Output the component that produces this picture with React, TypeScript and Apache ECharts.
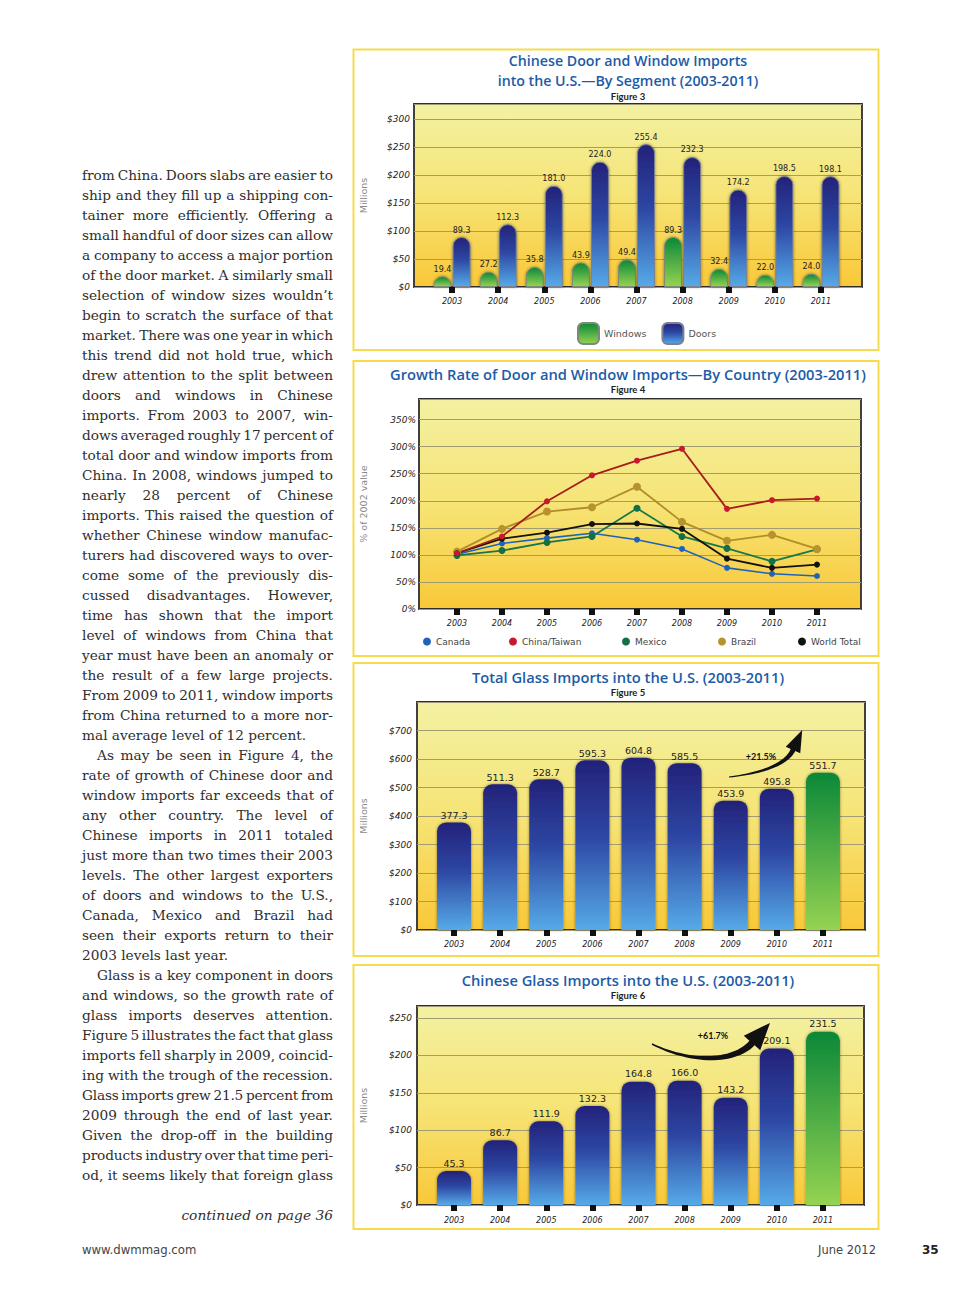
import React, { useEffect, useMemo, useRef } from 'react';
import * as echarts from 'echarts';

// ---------- DATA ----------
const YEARS = ['2003', '2004', '2005', '2006', '2007', '2008', '2009', '2010', '2011'];

// Figure 3 (Millions $)
const WINDOWS = [19.4, 27.2, 35.8, 43.9, 49.4, 89.3, 32.4, 22.0, 24.0];
const DOORS = [89.3, 112.3, 181.0, 224.0, 255.4, 232.3, 174.2, 198.5, 198.1];
const FIG3_TICKS = [0, 50, 100, 150, 200, 250, 300];

// Figure 4 (% of 2002 value)
const CANADA = [101, 121, 131, 140, 128, 111, 76, 65, 61];
const CHINA_TAIWAN = [103, 134, 199, 247, 274, 296, 185, 201, 204];
const MEXICO = [99, 108, 123, 134, 186, 134, 112, 88, 110];
const BRAZIL = [106, 148, 180, 188, 226, 161, 126, 137, 111];
const WORLD_TOTAL = [103, 130, 141, 157, 158, 148, 93, 76, 82];
const FIG4_TICKS = [0, 50, 100, 150, 200, 250, 300, 350];

// Figure 5 (Millions $)
const TOTAL_GLASS = [377.3, 511.3, 528.7, 595.3, 604.8, 585.5, 453.9, 495.8, 551.7];
const FIG5_TICKS = [0, 100, 200, 300, 400, 500, 600, 700];

// Figure 6 (Millions $)
const CHINESE_GLASS = [45.3, 86.7, 111.9, 132.3, 164.8, 166.0, 143.2, 209.1, 231.5];
const FIG6_TICKS = [0, 50, 100, 150, 200, 250];

const HIGHLIGHT_YEAR = '2011';

const BODY_LINES: { t: string; end?: boolean; indent?: boolean }[] = [
  { t: 'from China. Doors slabs are easier to' },
  { t: 'ship and they fill up a shipping con-' },
  { t: 'tainer more efficiently. Offering a' },
  { t: 'small handful of door sizes can allow' },
  { t: 'a company to access a major portion' },
  { t: 'of the door market. A similarly small' },
  { t: 'selection of window sizes wouldn\u2019t' },
  { t: 'begin to scratch the surface of that' },
  { t: 'market. There was one year in which' },
  { t: 'this trend did not hold true, which' },
  { t: 'drew attention to the split between' },
  { t: 'doors and windows in Chinese' },
  { t: 'imports. From 2003 to 2007, win-' },
  { t: 'dows averaged roughly 17 percent of' },
  { t: 'total door and window imports from' },
  { t: 'China. In 2008, windows jumped to' },
  { t: 'nearly 28 percent of Chinese' },
  { t: 'imports. This raised the question of' },
  { t: 'whether Chinese window manufac-' },
  { t: 'turers had discovered ways to over-' },
  { t: 'come some of the previously dis-' },
  { t: 'cussed disadvantages. However,' },
  { t: 'time has shown that the import' },
  { t: 'level of windows from China that' },
  { t: 'year must have been an anomaly or' },
  { t: 'the result of a few large projects.' },
  { t: 'From 2009 to 2011, window imports' },
  { t: 'from China returned to a more nor-' },
  { t: 'mal average level of 12 percent.', end: true },
  { t: 'As may be seen in Figure 4, the', indent: true },
  { t: 'rate of growth of Chinese door and' },
  { t: 'window imports far exceeds that of' },
  { t: 'any other country. The level of' },
  { t: 'Chinese imports in 2011 totaled' },
  { t: 'just more than two times their 2003' },
  { t: 'levels. The other largest exporters' },
  { t: 'of doors and windows to the U.S.,' },
  { t: 'Canada, Mexico and Brazil had' },
  { t: 'seen their exports return to their' },
  { t: '2003 levels last year.', end: true },
  { t: 'Glass is a key component in doors', indent: true },
  { t: 'and windows, so the growth rate of' },
  { t: 'glass imports deserves attention.' },
  { t: 'Figure 5 illustrates the fact that glass' },
  { t: 'imports fell sharply in 2009, coincid-' },
  { t: 'ing with the trough of the recession.' },
  { t: 'Glass imports grew 21.5 percent from' },
  { t: '2009 through the end of last year.' },
  { t: 'Given the drop-off in the building' },
  { t: 'products industry over that time peri-' },
  { t: 'od, it seems likely that foreign glass' },
];

// ---------- STYLE HELPERS ----------
const SANS = '"DejaVu Sans", Verdana, sans-serif';
const TITLE_FONT = '"Open Sans", sans-serif';

function vGrad(stops: [number, string][]) {
  return new echarts.graphic.LinearGradient(
    0, 0, 0, 1,
    stops.map(([offset, color]) => ({ offset, color }))
  );
}
const plotBg = () => vGrad([[0, '#f3f1a2'], [0.5, '#f6e476'], [1, '#f9c838']]);
const blueBar = () => vGrad([[0, '#23227a'], [0.45, '#2d47a3'], [1, '#56aae8']]);
const greenBar = () => vGrad([[0, '#0b8838'], [1, '#95d352']]);

type Pt = [number, number];
function arrowPoints(p0: Pt, p1: Pt, p2: Pt, p3: Pt, w0: number, w1: number, headLen: number, headHalf: number) {
  const front: Pt[] = [];
  const back: Pt[] = [];
  const N = 30;
  for (let i = 0; i <= N; i++) {
    const t = i / N, u = 1 - t;
    const x = u * u * u * p0[0] + 3 * u * u * t * p1[0] + 3 * u * t * t * p2[0] + t * t * t * p3[0];
    const y = u * u * u * p0[1] + 3 * u * u * t * p1[1] + 3 * u * t * t * p2[1] + t * t * t * p3[1];
    const dx = 3 * u * u * (p1[0] - p0[0]) + 6 * u * t * (p2[0] - p1[0]) + 3 * t * t * (p3[0] - p2[0]);
    const dy = 3 * u * u * (p1[1] - p0[1]) + 6 * u * t * (p2[1] - p1[1]) + 3 * t * t * (p3[1] - p2[1]);
    const l = Math.hypot(dx, dy) || 1;
    const nx = -dy / l, ny = dx / l;
    const w = (w0 + (w1 - w0) * t) / 2;
    front.push([x + nx * w, y + ny * w]);
    back.unshift([x - nx * w, y - ny * w]);
  }
  const dx = p3[0] - p2[0], dy = p3[1] - p2[1];
  const l = Math.hypot(dx, dy) || 1;
  const ux = dx / l, uy = dy / l;
  const nx = -uy, ny = ux;
  const hl: Pt = [p3[0] + nx * headHalf, p3[1] + ny * headHalf];
  const tip: Pt = [p3[0] + ux * headLen, p3[1] + uy * headLen];
  const hr: Pt = [p3[0] - nx * headHalf, p3[1] - ny * headHalf];
  return [...front, hl, tip, hr, ...back];
}

// ---------- PANELS ----------
type Panel = {
  A: { left: number; top: number; width: number; height: number };
  B: { left: number; width: number };
  max: number;
  interval: number;
  ticks: number[];
  fmt: (v: number) => string;
  name: string;
  nameGap: number;
  labelMargin: number;
  xMargin: number;
};

const PANELS: Panel[] = [
  { A: { left: 414, top: 104, width: 448, height: 183 }, B: { left: 429, width: 415 }, max: 327, interval: 50, ticks: FIG3_TICKS, fmt: (v) => '$' + v, name: 'Millions', nameGap: 46, labelMargin: 4, xMargin: 10 },
  { A: { left: 419, top: 399, width: 442, height: 210 }, B: { left: 434.5, width: 405 }, max: 388, interval: 50, ticks: FIG4_TICKS, fmt: (v) => v + '%', name: '% of 2002 value', nameGap: 51, labelMargin: 3, xMargin: 10 },
  { A: { left: 417, top: 702, width: 448, height: 228 }, B: { left: 431, width: 415 }, max: 800, interval: 100, ticks: FIG5_TICKS, fmt: (v) => '$' + v, name: 'Millions', nameGap: 49, labelMargin: 5, xMargin: 10 },
  { A: { left: 417, top: 1006, width: 447, height: 199 }, B: { left: 431, width: 415 }, max: 266, interval: 50, ticks: FIG6_TICKS, fmt: (v) => '$' + v, name: 'Millions', nameGap: 49, labelMargin: 5, xMargin: 11 },
];

function buildOption() {
  const grid: any[] = [];
  const xAxis: any[] = [];
  const yAxis: any[] = [];
  PANELS.forEach((p, k) => {
    grid.push({
      left: p.A.left, top: p.A.top, width: p.A.width, height: p.A.height,
      show: true, backgroundColor: plotBg(), borderColor: '#2e2e2e', borderWidth: 1.8,
    });
    grid.push({ left: p.B.left, top: p.A.top, width: p.B.width, height: p.A.height, show: false });
    xAxis.push({ gridIndex: 2 * k, type: 'value', min: 0, max: 1, show: false });
    xAxis.push({
      gridIndex: 2 * k + 1, type: 'category', data: YEARS, boundaryGap: true,
      axisLine: { show: false },
      axisTick: { show: true, alignWithLabel: true, length: 6, lineStyle: { color: '#111', width: 6 } },
      axisLabel: { fontStyle: 'italic', fontSize: 8, color: '#222', margin: p.xMargin, fontFamily: SANS },
    });
    yAxis.push({
      gridIndex: 2 * k, type: 'value', min: 0, max: p.max, interval: p.interval,
      axisLine: { show: false }, axisTick: { show: false },
      splitLine: { show: true, lineStyle: { color: '#a29c72', width: 1 } },
      axisLabel: {
        formatter: (v: number) => (p.ticks.includes(v) ? p.fmt(v) : ''),
        fontStyle: 'italic', fontSize: 9, color: '#222', margin: p.labelMargin, fontFamily: SANS,
      },
      name: p.name, nameLocation: 'middle', nameGap: p.nameGap, nameRotate: 90,
      nameTextStyle: { color: '#8a8a8a', fontSize: 9.5, fontFamily: SANS },
    });
    yAxis.push({ gridIndex: 2 * k + 1, type: 'value', min: 0, max: p.max, show: false });
  });

  const barShadow = { shadowBlur: 3, shadowColor: 'rgba(0,0,0,0.45)' };
  const fmt1 = (prm: any) => Number(prm.value).toFixed(1);

  const lineDefs: [string, number[], string, string, number, number][] = [
    ['Canada', CANADA, '#1f63b8', '#1f63b8', 6, 1.6],
    ['Mexico', MEXICO, '#16774a', '#127048', 7, 1.8],
    ['Brazil', BRAZIL, '#b08d2c', '#b8922e', 8, 1.8],
    ['World Total', WORLD_TOTAL, '#111111', '#111111', 6, 1.8],
    ['China/Taiwan', CHINA_TAIWAN, '#a51d1d', '#c9182e', 6, 1.8],
  ];

  const series: any[] = [
    {
      name: 'Windows', type: 'bar', xAxisIndex: 1, yAxisIndex: 1, data: WINDOWS,
      barWidth: 18, barGap: '6%',
      itemStyle: { color: greenBar(), borderRadius: [9, 9, 0, 0], borderColor: '#7d8a78', borderWidth: 1, ...barShadow },
      label: { show: true, position: 'top', distance: 3, formatter: fmt1, fontSize: 8, color: '#222', fontFamily: SANS },
    },
    {
      name: 'Doors', type: 'bar', xAxisIndex: 1, yAxisIndex: 1, data: DOORS,
      barWidth: 18, barGap: '6%',
      itemStyle: { color: blueBar(), borderRadius: [9, 9, 0, 0], borderColor: '#7c8090', borderWidth: 1, ...barShadow },
      label: { show: true, position: 'top', distance: 3, formatter: fmt1, fontSize: 8, color: '#222', fontFamily: SANS },
    },
    ...lineDefs.map(([name, data, lineColor, dotColor, size, width]) => ({
      name, type: 'line', xAxisIndex: 3, yAxisIndex: 3, data,
      symbol: 'circle', symbolSize: size,
      lineStyle: { color: lineColor, width },
      itemStyle: { color: dotColor },
    })),
    {
      name: 'Total Glass Imports', type: 'bar', xAxisIndex: 5, yAxisIndex: 5,
      data: TOTAL_GLASS.map((v, i) => (YEARS[i] === HIGHLIGHT_YEAR ? { value: v, itemStyle: { color: greenBar() } } : v)),
      barWidth: 34,
      itemStyle: { color: blueBar(), borderRadius: [9, 9, 0, 0], ...barShadow },
      label: { show: true, position: 'top', distance: 2, formatter: fmt1, fontSize: 9.5, color: '#222', fontFamily: SANS },
    },
    {
      name: 'Chinese Glass Imports', type: 'bar', xAxisIndex: 7, yAxisIndex: 7,
      data: CHINESE_GLASS.map((v, i) => (YEARS[i] === HIGHLIGHT_YEAR ? { value: v, itemStyle: { color: greenBar() } } : v)),
      barWidth: 34,
      itemStyle: { color: blueBar(), borderRadius: [9, 9, 0, 0], ...barShadow },
      label: { show: true, position: 'top', distance: 3, formatter: fmt1, fontSize: 9.5, color: '#222', fontFamily: SANS },
    },
  ];

  const legendText = { fontSize: 9, color: '#444', fontFamily: SANS };
  const fig4Legend: [string, number][] = [
    ['Canada', 418], ['China/Taiwan', 504], ['Mexico', 617], ['Brazil', 713], ['World Total', 793],
  ];
  const legend: any[] = [
    {
      data: ['Windows', 'Doors'], left: 572, top: 317, icon: 'roundRect',
      itemWidth: 21, itemHeight: 21, itemGap: 15,
      textStyle: { fontSize: 9.5, color: '#555', fontFamily: SANS },
      selectedMode: false,
    },
    ...fig4Legend.map(([name, left]) => ({
      data: [name], left, top: 632, icon: 'circle', itemWidth: 8, itemHeight: 8,
      textStyle: legendText, selectedMode: false,
    })),
  ];

  const frame = (y: number, h: number) => ({
    type: 'rect', shape: { x: 353.5, y, width: 525, height: h },
    style: { fill: 'none', stroke: '#f6dc4c', lineWidth: 2 }, z: 1,
  });
  const title = (text: string, y: number, size = 14.7) => ({
    type: 'text', x: 628, y, z: 10,
    style: {
      text, fill: '#1c5ba8', fontSize: size, fontWeight: 600, fontFamily: TITLE_FONT,
      align: 'center', verticalAlign: 'middle',
    },
  });
  const figLabel = (text: string, y: number) => ({
    type: 'text', x: 628, y, z: 10,
    style: { text, fill: '#222', fontSize: 9.5, fontWeight: 700, fontFamily: 'Lato, sans-serif', align: 'center', verticalAlign: 'middle' },
  });
  const note = (text: string, x: number, y: number) => ({
    type: 'text', x, y, z: 100,
    style: { text, fill: '#111', fontSize: 9, fontWeight: 700, fontFamily: 'Lato, sans-serif', align: 'center', verticalAlign: 'middle' },
  });

  const graphic: any[] = [
    frame(49.5, 300.5),
    frame(361, 295),
    frame(663, 293),
    frame(965, 264),
    title('Chinese Door and Window Imports', 60.8, 14.2),
    title('into the U.S.\u2014By Segment (2003-2011)', 80.4, 14.2),
    figLabel('Figure 3', 96.5),
    title('Growth Rate of Door and Window Imports\u2014By Country (2003-2011)', 374),
    figLabel('Figure 4', 389),
    title('Total Glass Imports into the U.S. (2003-2011)', 677),
    figLabel('Figure 5', 692),
    title('Chinese Glass Imports into the U.S. (2003-2011)', 980),
    figLabel('Figure 6', 995),
    {
      type: 'polygon', z: 100,
      shape: { points: arrowPoints([729, 777], [765, 773], [787, 763], [793, 750], 1, 5, 22, 8) },
      style: { fill: '#111' },
    },
    note('+21.5%', 761, 756),
    {
      type: 'polygon', z: 100,
      shape: { points: arrowPoints([652, 1044], [692, 1064], [735, 1062], [752, 1043], 1.5, 7, 27, 11) },
      style: { fill: '#111' },
    },
    note('+61.7%', 713, 1035),
  ];

  return {
    animation: false,
    backgroundColor: 'transparent',
    grid, xAxis, yAxis, series, legend, graphic,
  };
}

// ---------- BODY TEXT ----------
const BODY_FONT = '13.7px "DejaVu Serif", "Liberation Serif", serif';
const COL_LEFT = 82;
const COL_WIDTH = 251;

function BodyText() {
  const spacing = useMemo(() => {
    const c = document.createElement('canvas').getContext('2d');
    if (!c) return BODY_LINES.map(() => 0);
    c.font = BODY_FONT;
    return BODY_LINES.map((ln) => {
      const avail = COL_WIDTH - (ln.indent ? 15 : 0);
      const words = ln.t.split(' ');
      const wordsW = c.measureText(words.join('')).width;
      const minSpaces = ln.end ? c.measureText(' ').width * (words.length - 1) : 2.8 * (words.length - 1);
      const need = wordsW + minSpaces;
      if (need <= avail) return 0;
      return (avail - need) / ln.t.replace(/ /g, '').length;
    });
  }, []);

  return (
    <div style={{ position: 'absolute', left: 0, top: 0, width: 960, height: 1290, color: '#2e2e2e', font: BODY_FONT }}>
      {BODY_LINES.map((ln, i) => {
        const top = 165 + i * 20;
        const ls = spacing[i];
        const base: React.CSSProperties = {
          position: 'absolute', left: COL_LEFT, top, width: COL_WIDTH, height: 20, lineHeight: '20px',
          paddingLeft: ln.indent ? 15 : 0, boxSizing: 'border-box', whiteSpace: 'nowrap',
          letterSpacing: ls ? ls + 'px' : undefined,
        };
        if (ln.end) {
          return <div key={i} style={base}>{ln.t}</div>;
        }
        return (
          <div key={i} style={{ ...base, display: 'flex', justifyContent: 'space-between' }}>
            {ln.t.split(' ').map((w, j) => <span key={j}>{w}</span>)}
          </div>
        );
      })}
      <div style={{ position: 'absolute', left: COL_LEFT - 20, top: 1205, width: COL_WIDTH + 20, lineHeight: '20px', textAlign: 'right', fontStyle: 'italic', fontSize: 13.8 }}>
        continued on page 36
      </div>
      <div style={{ position: 'absolute', left: 82, top: 1243, lineHeight: '16px', font: '11.7px "DejaVu Sans", Verdana, sans-serif', color: '#444' }}>
        www.dwmmag.com
      </div>
      <div style={{ position: 'absolute', right: 84, top: 1243, lineHeight: '16px', font: '11.5px "DejaVu Sans", Verdana, sans-serif', color: '#444' }}>
        June 2012
      </div>
      <div style={{ position: 'absolute', left: 922, top: 1243, lineHeight: '16px', font: 'bold 12px "DejaVu Sans", Verdana, sans-serif', color: '#222' }}>
        35
      </div>
    </div>
  );
}

export default function App() {
  const ref = useRef<HTMLDivElement>(null);
  useEffect(() => {
    if (!ref.current) return;
    const chart = echarts.init(ref.current, null, { renderer: 'svg' });
    chart.setOption(buildOption() as any);
    return () => chart.dispose();
  }, []);
  return (
    <div style={{ position: 'absolute', left: 0, top: 0, width: 960, height: 1290, background: '#fff', overflow: 'hidden' }}>
      <div ref={ref} style={{ position: 'absolute', left: 0, top: 0, width: 960, height: 1290 }} />
      <BodyText />
    </div>
  );
}
